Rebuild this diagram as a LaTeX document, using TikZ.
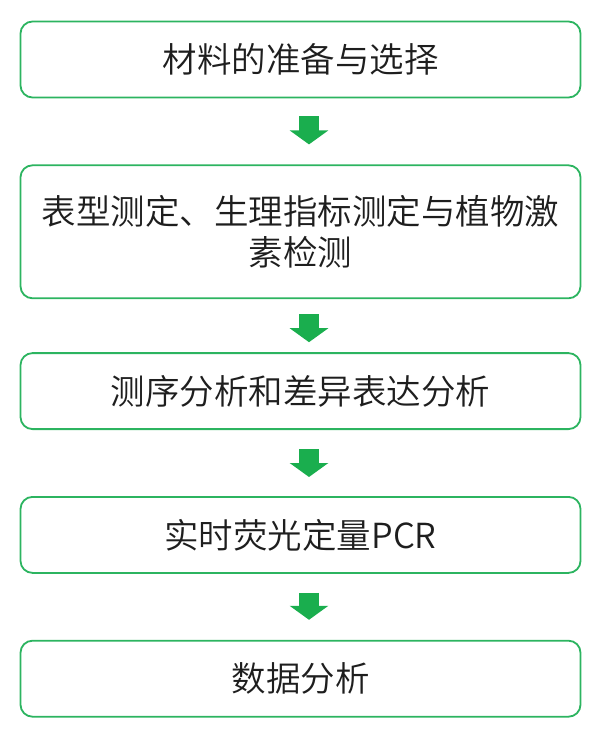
\documentclass[tikz,border=0pt]{standalone}
\usepackage{fontspec}
\setmainfont{Noto Sans CJK SC}[UprightFont={* DemiLight}]
\usetikzlibrary{positioning}
\usetikzlibrary{arrows.meta}
\definecolor{boxgreen}{RGB}{44,180,96}
\definecolor{arrowgreen}{RGB}{26,174,78}
\definecolor{textgray}{RGB}{30,30,30}
\tikzset{
    x=1pt, y=-1pt,
    node distance=66pt,
    stepbox/.style={
        draw=boxgreen,
        line width=1.8pt,
        rounded corners=12pt,
        fill=white,
        minimum width=560pt,
        minimum height=76pt,
        align=center,
        text=textgray,
        font=\fontsize{34.5}{41}\selectfont
    },
    flow/.style={
        draw=arrowgreen,
        line width=20pt,
        -{Triangle[width=38pt,length=14pt]},
        arrowgreen
    }
}

\begin{document}
\begin{tikzpicture}
                \useasboundingbox (0,0) rectangle (602,738);
                \node[stepbox] (prep) at (300.5,59.5) {材料的准备与选择};
                \node[stepbox, minimum height=133pt, below=of prep] (pheno) {表型测定、生理指标测定与植物激\\素检测};
                \node[stepbox, below=53pt of pheno] (seq) {测序分析和差异表达分析};
                \node[stepbox, below=of seq] (qpcr) {实时荧光定量PCR};
                \node[stepbox, below=of qpcr] (data) {数据分析};

                \draw[flow, shorten <=18pt, shorten >=20pt] ([xshift=8.5pt]prep.south) -- ([xshift=8.5pt]pheno.north);
                \draw[flow, shorten <=15pt, shorten >=10pt] ([xshift=8.5pt]pheno.south) -- ([xshift=8.5pt]seq.north);
                \draw[flow, shorten <=19pt, shorten >=19pt] ([xshift=8.5pt]seq.south) -- ([xshift=8.5pt]qpcr.north);
                \draw[flow, shorten <=19pt, shorten >=20pt] ([xshift=8.5pt]qpcr.south) -- ([xshift=8.5pt]data.north);
            \end{tikzpicture}
\end{document}
